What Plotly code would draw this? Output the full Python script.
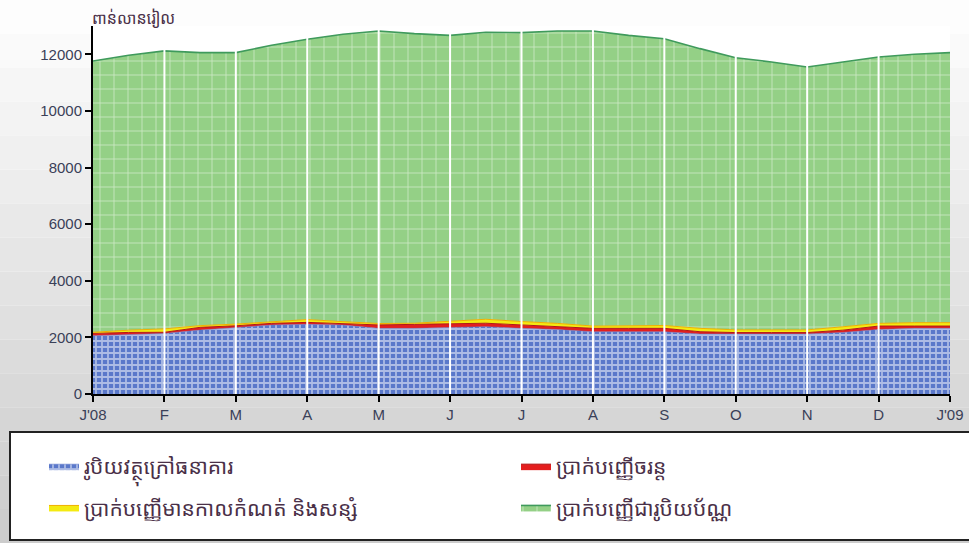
import plotly.graph_objects as go

# ---- data (billion riel), semi-monthly readings Jan 2008 -> Jan 2009 ----
periods = ["2008-01a", "2008-01b", "2008-02a", "2008-02b", "2008-03a", "2008-03b",
           "2008-04a", "2008-04b", "2008-05a", "2008-05b", "2008-06a", "2008-06b",
           "2008-07a", "2008-07b", "2008-08a", "2008-08b", "2008-09a", "2008-09b",
           "2008-10a", "2008-10b", "2008-11a", "2008-11b", "2008-12a", "2008-12b",
           "2009-01a"]

currency_outside_banks = [2060, 2105, 2140, 2260, 2350, 2435, 2460, 2435, 2320, 2320,
                          2350, 2380, 2320, 2280, 2200, 2200, 2200, 2120, 2120, 2120,
                          2120, 2175, 2280, 2320, 2320]
demand_deposits = [80, 70, 40, 95, 60, 60, 70, 60, 120, 140,
                   120, 120, 120, 95, 120, 120, 120, 80, 50, 50,
                   50, 80, 120, 80, 80]
time_savings_deposits = [40, 80, 120, 60, 60, 60, 100, 60, 50, 40,
                         90, 140, 120, 120, 80, 80, 100, 120, 95, 95,
                         95, 120, 95, 120, 120]
foreign_currency_deposits = [9585, 9710, 9820, 9645, 9590, 9765, 9900, 10155, 10335, 10230,
                             10110, 10140, 10205, 10330, 10425, 10270, 10130, 9880, 9615, 9465,
                             9285, 9355, 9410, 9480, 9540]

tick_periods = ["2008-01a", "2008-02a", "2008-03a", "2008-04a", "2008-05a", "2008-06a",
                "2008-07a", "2008-08a", "2008-09a", "2008-10a", "2008-11a", "2008-12a",
                "2009-01a"]
tick_labels = ["J'08", "F", "M", "A", "M", "J", "J", "A", "S", "O", "N", "D", "J'09"]
y_ticks = [0, 2000, 4000, 6000, 8000, 10000, 12000]
y_tick_labels = ["0", "2000", "4000", "6000", "8000", "10000", "12000"]

names = ["រូបិយវត្ថុក្រៅធនាគារ", "ប្រាក់បញ្ញើចរន្ត",
         "ប្រាក់បញ្ញើមានកាលកំណត់ និងសន្សំ", "ប្រាក់បញ្ញើជារូបិយប័ណ្ណ"]
y_title = "ពាន់លានរៀល"

KH = "Noto Sans Khmer, Khmer OS, Noto Sans, DejaVu Sans, sans-serif"
NUM = "Liberation Sans, Arial, sans-serif"

H, W, T, B, L, R = 552, 969, 26, 158, 93, 19
ph = H - T - B
pw = W - L - R
def py(px):
    return (H - B - px) / ph
def pxx(px):
    return (px - L) / pw

fig = go.Figure()
fig.add_trace(go.Scatter(
    x=periods, y=currency_outside_banks, name=names[0], stackgroup="s", mode="lines",
    legend="legend", legendgroup="a",
    line=dict(width=0.5, color="#5a78c8"), fillcolor="#5a78ca",
    fillpattern=dict(shape="+", fgcolor="#ffffff", bgcolor="#5a78ca", size=6, solidity=0.5)))
fig.add_trace(go.Scatter(
    x=periods, y=demand_deposits, name=names[1], stackgroup="s", mode="lines",
    legend="legend2", legendgroup="b",
    line=dict(width=1, color="#b01818"), fillcolor="#e41e1e"))
fig.add_trace(go.Scatter(
    x=periods, y=time_savings_deposits, name=names[2], stackgroup="s", mode="lines",
    legend="legend", legendgroup="c",
    line=dict(width=1, color="#f0b000"), fillcolor="#f4ea12"))
fig.add_trace(go.Scatter(
    x=periods, y=foreign_currency_deposits, name=names[3], stackgroup="s", mode="lines",
    legend="legend2", legendgroup="d",
    line=dict(width=1.6, color="#3f9a5c"), fillcolor="#94d086",
    fillpattern=dict(shape="+", fgcolor="#ffffff", bgcolor="#94d086", size=14, solidity=0.12)))

shapes = []
# light gray vertical gradient background panel
n = 16
top_px, bot_px = 0, 543
for i in range(n):
    a = top_px + (bot_px - top_px) * i / n
    b = top_px + (bot_px - top_px) * (i + 1) / n
    t = (i + 0.5) / n
    c = int(255 - 52 * t)
    shapes.append(dict(type="rect", xref="paper", yref="paper", x0=-0.2, x1=1.2,
                       y0=py(b), y1=py(a), fillcolor=f"rgb({c},{c},{c})",
                       line=dict(width=0), layer="below"))
# plot-area white above the data
shapes.append(dict(type="rect", xref="paper", yref="paper", x0=0, x1=1, y0=0, y1=1,
                   fillcolor="white", line=dict(width=0), layer="below"))
# white vertical month lines over the areas
for tp in tick_periods[1:-1]:
    idx = periods.index(tp)
    shapes.append(dict(type="line", xref="x", yref="paper", x0=idx, x1=idx, y0=0, y1=1,
                       line=dict(color="white", width=2), layer="above"))
# legend frame
shapes.append(dict(type="rect", xref="paper", yref="paper",
                   x0=pxx(10), x1=1.04, y0=py(540), y1=py(432),
                   fillcolor="white", line=dict(color="#222222", width=2), layer="below"))

leg_common = dict(orientation="v", xanchor="left", yanchor="top",
                  bgcolor="rgba(0,0,0,0)", tracegroupgap=11, traceorder="grouped",
                  font=dict(family=KH, size=21, color="#4a3048"))

fig.update_layout(
    width=W, height=H,
    margin=dict(l=L, r=R, t=T, b=B, autoexpand=False),
    paper_bgcolor="white", plot_bgcolor="rgba(0,0,0,0)",
    shapes=shapes,
    showlegend=True,
    legend=dict(x=pxx(44), y=py(446), **leg_common),
    legend2=dict(x=pxx(516), y=py(446), **leg_common),
    annotations=[dict(text=y_title, xref="paper", yref="paper", x=pxx(90), y=py(18),
                      xanchor="left", yanchor="middle", showarrow=False,
                      font=dict(family=KH, size=16, color="#4a3048"))],
    xaxis=dict(type="category", range=[0, len(periods) - 1], tickmode="array",
               tickvals=tick_periods, ticktext=tick_labels, showgrid=False,
               showline=True, linecolor="black", linewidth=2, ticks="outside",
               ticklen=6, tickcolor="black", tickwidth=1.5,
               tickfont=dict(family=NUM, size=15, color="#3a4058")),
    yaxis=dict(range=[0, 13000], tickmode="array", tickvals=y_ticks, ticktext=y_tick_labels,
               showgrid=False, zeroline=False,
               showline=True, linecolor="black", linewidth=2, ticks="outside",
               ticklen=6, tickcolor="black", tickwidth=1.5,
               tickfont=dict(family=NUM, size=15, color="#3a4058")),
)

fig.write_html("out.html", config={"displayModeBar": False},
               post_script="document.body.style.margin='0px';")
